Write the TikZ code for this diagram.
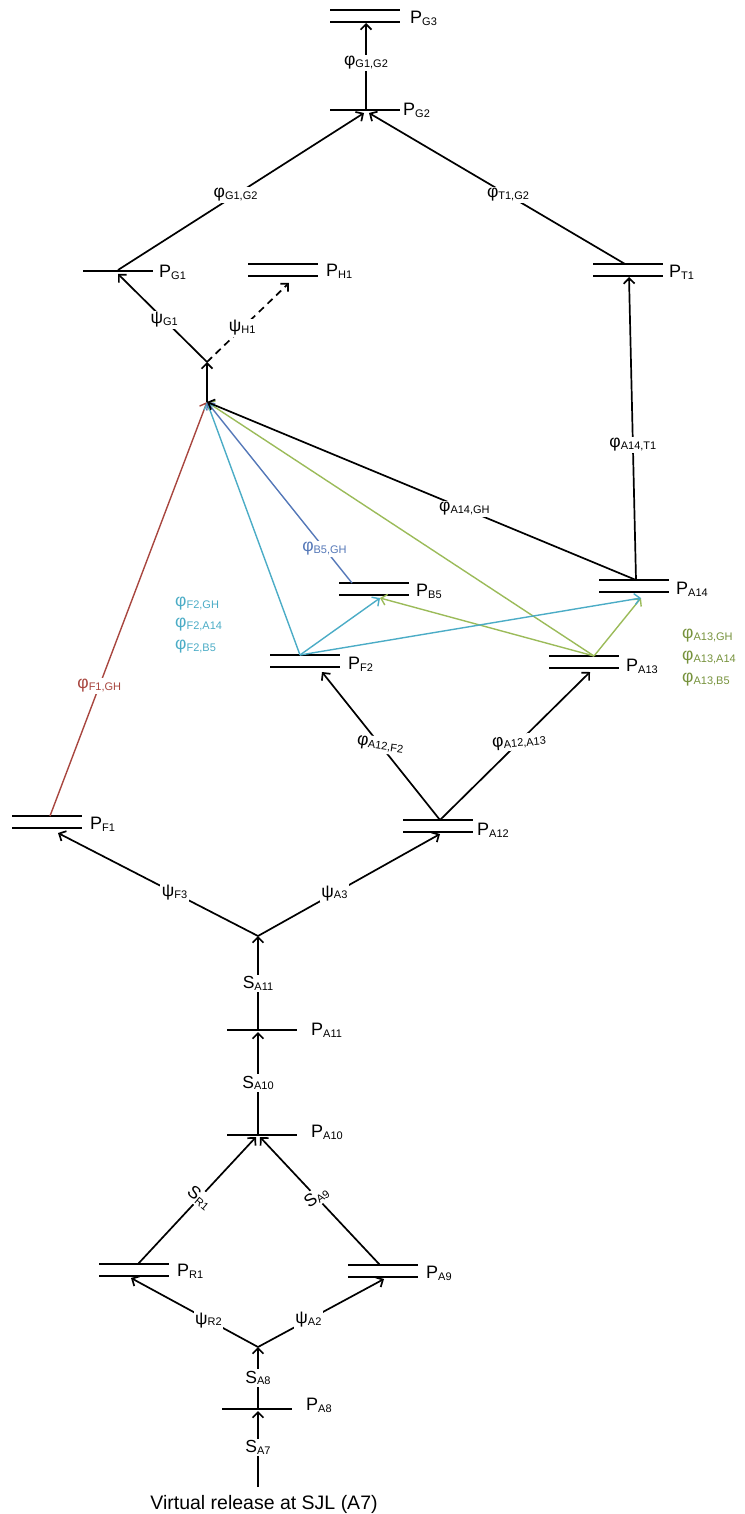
\documentclass[tikz,border=0pt]{standalone}
\usepackage{fontspec}
\setmainfont{Liberation Sans}
\usetikzlibrary{arrows.meta}
\definecolor{cyanl}{HTML}{4BACC6}
\definecolor{bluel}{HTML}{5578B8}
\definecolor{greenl}{HTML}{9BBB59}
\definecolor{olivel}{HTML}{76923C}
\definecolor{brownl}{HTML}{A8463F}
\newcommand\sbs[1]{\raisebox{-1.8pt}{\fontsize{11}{12}\selectfont #1}}
\newcommand\Pl[1]{{\fontsize{18}{20}\selectfont P\sbs{#1}}}
\newcommand\Gl[2]{{\fontsize{17.5}{19}\selectfont #1\sbs{#2}}}
\tikzset{
  bar/.style={line width=2.4pt, black},
  conn/.style={line width=1.7pt, -{Straight Barb[length=5.5pt,width=11pt]}},
  lab/.style={fill=white, inner sep=1.5pt},
  plab/.style={anchor=west, inner sep=0pt},
  sgl/.pic={\draw[bar] (-35,0) -- (35,0);},
  dbl/.pic={\draw[bar] (-35,-6) -- (35,-6); \draw[bar] (-35,6) -- (35,6);},
}
\begin{document}
\begin{tikzpicture}[x=1pt,y=-1pt]
\useasboundingbox (0,0) rectangle (744,1514);
% ---- bars and labels
\pic at (365,16) {dbl}; \node[plab] (lG3) at (410,18) {\Pl{G3}};
\pic at (365,110) {sgl}; \node[plab] (lG2) at (403,110) {\Pl{G2}};
\pic at (118,271) {sgl}; \node[plab] (lG1) at (159,272) {\Pl{G1}};
\pic at (283,270) {dbl}; \node[plab] (lH1) at (326,271) {\Pl{H1}};
\pic at (628,270) {dbl}; \node[plab] (lT1) at (669,272) {\Pl{T1}};
\pic at (634,586) {dbl}; \node[plab] (lA14) at (676,589) {\Pl{A14}};
\pic at (374,589) {dbl}; \node[plab] (lB5) at (416,591) {\Pl{B5}};
\pic at (305,661) {dbl}; \node[plab] (lF2) at (348,664) {\Pl{F2}};
\pic at (584,662) {dbl}; \node[plab] (lA13) at (626,666) {\Pl{A13}};
\pic at (47,822) {dbl}; \node[plab] (lF1) at (90,824) {\Pl{F1}};
\pic at (438,826) {dbl}; \node[plab] (lA12) at (477,830) {\Pl{A12}};
\pic at (262,1030) {sgl}; \node[plab] (lA11) at (311,1030) {\Pl{A11}};
\pic at (262,1135) {sgl}; \node[plab] (lA10) at (311,1132) {\Pl{A10}};
\pic at (134,1270) {dbl}; \node[plab] (lR1) at (177,1271) {\Pl{R1}};
\pic at (383,1271) {dbl}; \node[plab] (lA9) at (426,1273) {\Pl{A9}};
\pic at (257,1409) {sgl}; \node[plab] (lA8) at (306,1405) {\Pl{A8}};
% ---- attach points
\coordinate (G3b) at (366,23);
\coordinate (G2) at (366,110);
\coordinate (G2l) at (364,113);
\coordinate (G2r) at (369,113);
\coordinate (G1t) at (118,270);
\coordinate (G1b) at (118,274);
\coordinate (H1b) at (289,283);
\coordinate (T1t) at (625,264);
\coordinate (T1b) at (629,277);
\coordinate (J1) at (207,362);
\coordinate (GH) at (207,402);
\coordinate (A14t) at (636,580);
\coordinate (A14b) at (641,598);
\coordinate (B5t) at (352,583);
\coordinate (B5b) at (380,598);
\coordinate (F2t) at (300,655);
\coordinate (F2b) at (322,672);
\coordinate (A13t) at (594,656);
\coordinate (A13b) at (590,672);
\coordinate (F1t) at (50,816);
\coordinate (F1b) at (58,833);
\coordinate (A12t) at (440,820);
\coordinate (A12b) at (440,834);
\coordinate (J2) at (258,936);
\coordinate (A11) at (258,1030);
\coordinate (A11b) at (258,1032);
\coordinate (A10) at (258,1135);
\coordinate (A10l) at (256,1137);
\coordinate (A10r) at (260,1137);
\coordinate (R1t) at (138,1264);
\coordinate (R1b) at (131,1278);
\coordinate (A9t) at (380,1265);
\coordinate (A9b) at (384,1279);
\coordinate (J3) at (258,1347);
\coordinate (A8) at (258,1409);
\coordinate (A8b) at (258,1411);
\coordinate (S0) at (258,1487);
% ---- colored connectors
\draw[conn, brownl, line width=1.4pt] (F1t) -- node[lab, pos=0.314, text=brownl] (l1) {\Gl{φ}{F1,GH}} (GH);
\draw[conn, greenl, line width=1.4pt] (A13t) -- (GH);
\draw[conn, greenl, line width=1.4pt] (A13t) -- (B5b);
\draw[conn, greenl, line width=1.4pt] (A13t) -- (A14b);
\draw[conn, cyanl, line width=1.4pt] (F2t) -- (GH);
\draw[conn, cyanl, line width=1.4pt] (F2t) -- (B5b);
\draw[conn, cyanl, line width=1.4pt] (F2t) -- (A14b);
\draw[conn, bluel, line width=1.4pt] (B5t) -- node[lab, pos=0.19, text=bluel] (l2) {\Gl{φ}{B5,GH}} (GH);
% ---- black connectors
\draw[conn] (G2) -- node[lab, pos=0.545] (l3) {\Gl{φ}{G1,G2}} (G3b);
\draw[conn] (G1t) -- node[lab, pos=0.478] (l4) {\Gl{φ}{G1,G2}} (G2l);
\draw[conn] (T1t) -- node[lab, pos=0.457] (l5) {\Gl{φ}{T1,G2}} (G2r);
\draw[conn] (J1) -- node[lab, pos=0.48] (l6) {\Gl{ψ}{G1}} (G1b);
\draw[conn, dash pattern=on 7pt off 5pt] (J1) -- node[lab, pos=0.43] (l7) {\Gl{ψ}{H1}} (H1b);
\draw[conn] (GH) -- (J1);
\draw[conn] (A14t) -- node[lab, pos=0.446] (l8) {\Gl{φ}{A14,T1}} (T1b);
\draw[conn] (A14t) -- node[lab, pos=0.40] (l9) {\Gl{φ}{A14,GH}} (GH);
\draw[conn] (A12t) -- node[lab, pos=0.507, rotate=-8] (l10) {\Gl{φ}{A12,F2}} (F2b);
\draw[conn] (A12t) -- node[lab, pos=0.527, rotate=5] (l11) {\Gl{φ}{A12,A13}} (A13b);
\draw[conn] (J2) -- node[lab, pos=0.417] (l12) {\Gl{ψ}{F3}} (F1b);
\draw[conn] (J2) -- node[lab, pos=0.42] (l13) {\Gl{ψ}{A3}} (A12b);
\draw[conn] (A11) -- node[lab, pos=0.5] (l14) {\Gl{S}{A11}} (J2);
\draw[conn] (A10) -- node[lab, pos=0.505] (l15) {\Gl{S}{A10}} (A11b);
\draw[conn] (R1t) -- node[lab, pos=0.52, rotate=-40] (l16) {\Gl{S}{R1}} (A10l);
\draw[conn] (A9t) -- node[lab, pos=0.53, rotate=35] (l17) {\Gl{S}{A9}} (A10r);
\draw[conn] (J3) -- node[lab, pos=0.39] (l18) {\Gl{ψ}{R2}} (R1b);
\draw[conn] (J3) -- node[lab, pos=0.4] (l19) {\Gl{ψ}{A2}} (A9b);
\draw[conn] (A8) -- node[lab, pos=0.5] (l20) {\Gl{S}{A8}} (J3);
\draw[conn] (S0) -- node[lab, pos=0.526] (l21) {\Gl{S}{A7}} (A8b);
% ---- free labels
\node[anchor=west, text=cyanl, inner sep=0pt] (c1) at (175,604) {\Gl{φ}{F2,GH}};
\node[anchor=west, text=cyanl, inner sep=0pt] (c2) at (175,625) {\Gl{φ}{F2,A14}};
\node[anchor=west, text=cyanl, inner sep=0pt] (c3) at (175,647) {\Gl{φ}{F2,B5}};
\node[anchor=west, text=olivel, inner sep=0pt] (g1) at (682,636) {\Gl{φ}{A13,GH}};
\node[anchor=west, text=olivel, inner sep=0pt] (g2) at (682,658) {\Gl{φ}{A13,A14}};
\node[anchor=west, text=olivel, inner sep=0pt] (g3) at (682,680) {\Gl{φ}{A13,B5}};
\node (vr) at (264,1504) {\fontsize{19.5}{22}\selectfont Virtual release at SJL (A7)};
\end{tikzpicture}
\end{document}
